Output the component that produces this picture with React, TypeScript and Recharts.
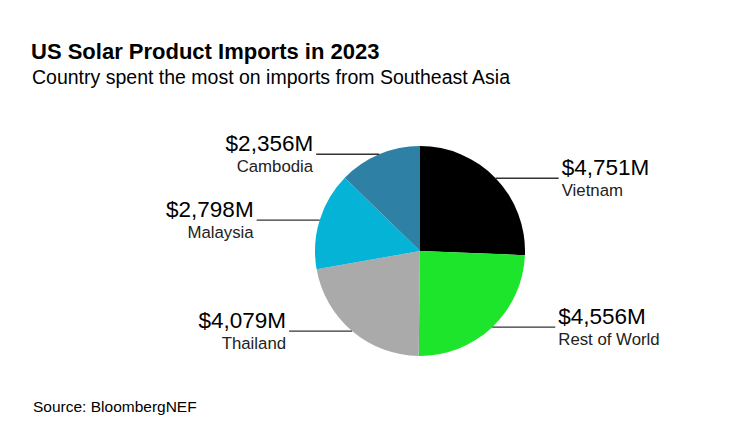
import React from "react";
import { PieChart, Pie, Cell } from "recharts";

const countries = ["Vietnam", "Rest of World", "Thailand", "Malaysia", "Cambodia"];
const importValues = [4751, 4556, 4079, 2798, 2356];
const sliceColors = ["#000000", "#1de52b", "#aaaaaa", "#04b3d5", "#2e80a5"];

const title = "US Solar Product Imports in 2023";
const subtitle = "Country spent the most on imports from Southeast Asia";
const source = "Source: BloombergNEF";

const data = countries.map((name, i) => ({ name, value: importValues[i] }));

const FONT = "'Liberation Sans', Arial, Helvetica, sans-serif";
const RADIAN = Math.PI / 180;

const fmt = (v: number) => `$${v.toLocaleString("en-US")}M`;

const renderLabel = (props: any) => {
  const { cx, cy, midAngle, outerRadius, index } = props;
  const x0 = cx + outerRadius * Math.cos(-midAngle * RADIAN);
  const y0 = cy + outerRadius * Math.sin(-midAngle * RADIAN);
  const right = Math.cos(-midAngle * RADIAN) >= 0;
  const len = 63;
  const x1 = right ? x0 + len : x0 - len;
  const tx = right ? x1 + 3 : x1 - 3;
  const anchor = right ? "start" : "end";
  return (
    <g key={`lbl-${index}`}>
      <line x1={x0} y1={y0} x2={x1} y2={y0} stroke="#333" strokeWidth={1.3} />
      <text x={tx} y={y0 - 3} textAnchor={anchor} fontFamily={FONT} fontSize={22.5} fill="#000">
        {fmt(importValues[index])}
      </text>
      <text x={tx} y={y0 + 18} textAnchor={anchor} fontFamily={FONT} fontSize={16.8} fill="#222">
        {countries[index]}
      </text>
    </g>
  );
};

export default function App() {
  return (
    <div style={{ position: "fixed", left: 0, top: 0, width: 733, height: 445, background: "#fff" }}>
      <PieChart width={733} height={445} margin={{ top: 0, right: 0, bottom: 0, left: 0 }}>
        <Pie
          data={data}
          dataKey="value"
          nameKey="name"
          cx={420}
          cy={251}
          outerRadius={105}
          startAngle={90}
          endAngle={-270}
          stroke="none"
          label={renderLabel}
          labelLine={false}
          isAnimationActive={false}
        >
          {data.map((d, i) => (
            <Cell key={d.name} fill={sliceColors[i]} />
          ))}
        </Pie>
      </PieChart>
      <svg width={733} height={445} style={{ position: "absolute", left: 0, top: 0, pointerEvents: "none" }}>
        <text x={31} y={59} fontFamily={FONT} fontSize={22} fontWeight="bold" fill="#000">
          {title}
        </text>
        <text x={32} y={84} fontFamily={FONT} fontSize={19.5} fill="#000">
          {subtitle}
        </text>
        <text x={33} y={412} fontFamily={FONT} fontSize={15.5} fill="#000">
          {source}
        </text>
      </svg>
    </div>
  );
}
